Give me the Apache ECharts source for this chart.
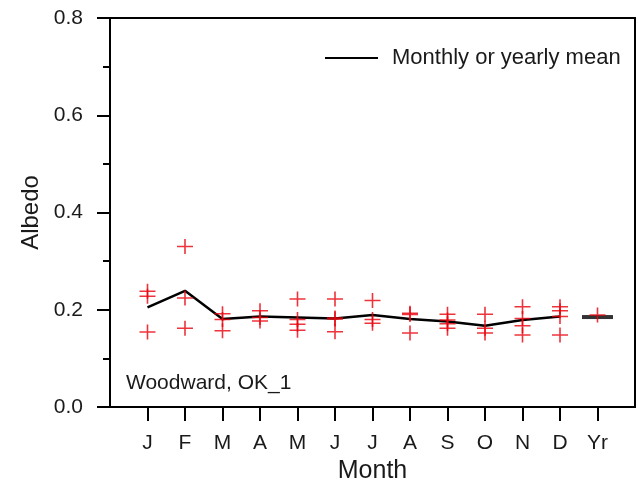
<!DOCTYPE html>
<html><head><meta charset="utf-8">
<script src="https://cdn.jsdelivr.net/npm/echarts@6/dist/echarts.min.js"></script>
<style>html,body{margin:0;padding:0;background:#fff}#c{width:638px;height:483px}</style>
</head><body><div id="c"></div>
<script>
const categories = ['', 'J','F','M','A','M','J','J','A','S','O','N','D','Yr',''];
const monthlyMean = [0.205,0.239,0.181,0.186,0.184,0.182,0.189,0.181,0.176,0.167,0.179,0.186];
const yearlyMean = 0.185;
// individual years per month (index 1..12), Yr = 13
const obsJ = [0.238,0.228,0.154];
const obsF = [0.330,0.224,0.162];
const obsM = [0.192,0.180,0.157];
const obsA = [0.198,0.184,0.177];
const obsMay = [0.222,0.180,0.170,0.158];
const obsJun = [0.222,0.183,0.181,0.155];
const obsJul = [0.219,0.180,0.172];
const obsAug = [0.193,0.190,0.152];
const obsS = [0.191,0.179,0.171,0.162];
const obsO = [0.191,0.162,0.152];
const obsN = [0.206,0.182,0.167,0.148];
const obsD = [0.206,0.198,0.186,0.148];
const obsYr = [0.189];
const obsAll = [obsJ,obsF,obsM,obsA,obsMay,obsJun,obsJul,obsAug,obsS,obsO,obsN,obsD,obsYr];
const yTicks = ['0.0','0.2','0.4','0.6','0.8'];

const obsData = [];
obsAll.forEach((arr,i)=>arr.forEach(v=>obsData.push([i+1,v])));
const meanData = monthlyMean.map((v,i)=>[i+1,v]);

const FONT = 'Liberation Sans, Arial, sans-serif';
const TXT = '#1a1a1a';
const chart = echarts.init(document.getElementById('c'), null, {renderer:'canvas'});
chart.setOption({
  animation:false,
  backgroundColor:'#fff',
  grid:{left:110,right:3,top:18,bottom:76,containLabel:false,outerBoundsMode:'none',show:true,borderColor:'#000',borderWidth:2,backgroundColor:'transparent'},
  legend:{
    show:true,left:320,top:42,
    data:[{name:'Monthly or yearly mean',icon:'path://M0,0H53V2H0Z'}],
    itemWidth:53,itemHeight:2,
    textStyle:{fontFamily:FONT,fontSize:22,color:TXT,padding:[0,0,0,9]}
  },
  xAxis:{
    type:'category',data:categories,boundaryGap:false,
    name:'Month',nameLocation:'middle',nameGap:51,
    nameTextStyle:{fontFamily:FONT,fontSize:25,color:TXT},
    axisLine:{show:true,lineStyle:{color:'#000',width:2}},
    axisTick:{show:true,inside:false,length:14,interval:(i)=>i>0&&i<14,lineStyle:{color:'#000',width:2}},
    axisLabel:{interval:0,margin:26,fontFamily:FONT,fontSize:21,color:TXT},
    splitLine:{show:false}
  },
  yAxis:{
    type:'value',min:0,max:0.8,interval:0.2,
    name:'Albedo',nameLocation:'middle',nameGap:59,
    nameTextStyle:{fontFamily:FONT,fontSize:24,color:TXT},
    axisLine:{show:true,lineStyle:{color:'#000',width:2}},
    axisTick:{show:true,inside:false,length:13,lineStyle:{color:'#000',width:2}},
    minorTick:{show:true,splitNumber:2,length:7,lineStyle:{color:'#000',width:2}},
    axisLabel:{margin:27,fontFamily:FONT,fontSize:21,color:TXT,formatter:(v)=>yTicks[Math.round(v/0.2)]},
    splitLine:{show:false}
  },
  graphic:[{type:'text',left:126,top:373,style:{text:'Woodward, OK_1',font:'21px '+FONT,fill:TXT}}],
  series:[
    {name:'Monthly or yearly mean',type:'line',data:meanData,symbol:'none',color:'#000',
     lineStyle:{color:'#000',width:2.5},z:3},
    {name:'yr',type:'scatter',data:[[13,yearlyMean]],symbol:'rect',symbolSize:[31,4],
     itemStyle:{color:'#000'},z:3},
    {name:'obs',type:'scatter',data:obsData,symbol:'path://M0,7.2H16V8.8H0Z M7.2,0H8.8V16H7.2Z',symbolSize:[16,15],
     itemStyle:{color:'#e8000b'},z:4}
  ]
});
</script></body></html>
